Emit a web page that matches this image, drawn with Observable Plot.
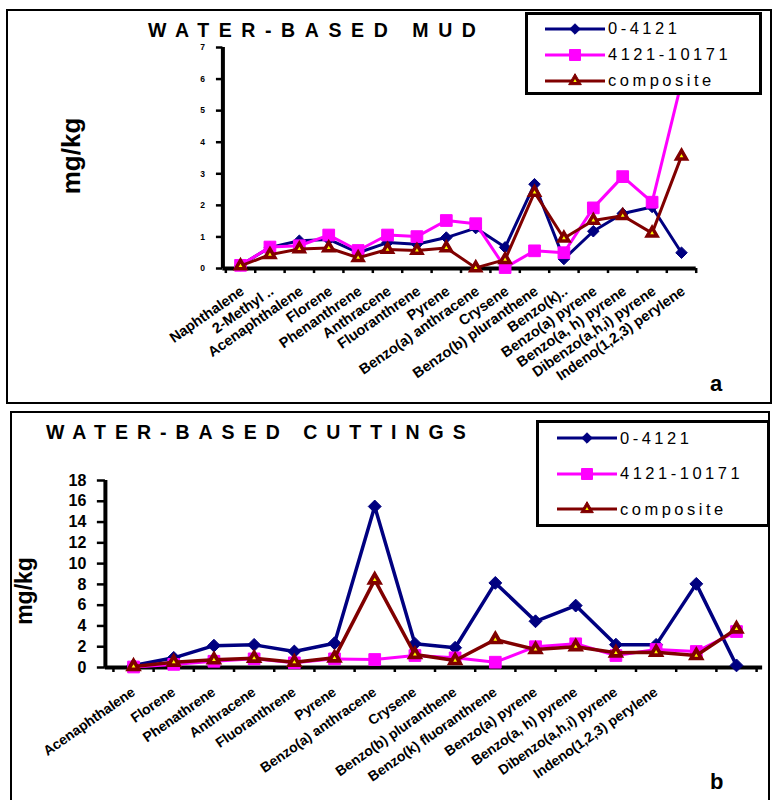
<!DOCTYPE html>
<html>
<head>
<meta charset="utf-8">
<script src="https://cdn.jsdelivr.net/npm/d3@7"></script>
<script src="https://cdn.jsdelivr.net/npm/@observablehq/plot@0.6"></script>
<style>
html,body{margin:0;padding:0;background:#fff;}
body{position:relative;width:780px;height:800px;overflow:hidden;font-family:"Liberation Sans",Arial,Helvetica,sans-serif;color:#000;}
.panel{position:absolute;border:2px solid #000;box-sizing:border-box;}
.title{position:absolute;font-weight:bold;font-size:19.5px;letter-spacing:9px;line-height:1;white-space:nowrap;}
.legend{position:absolute;border:3px solid #000;background:#fff;box-sizing:border-box;z-index:5;}
.entry{position:absolute;display:flex;align-items:center;white-space:nowrap;z-index:6;}
.entry span{font-size:16.5px;letter-spacing:3.5px;line-height:1;}
.entry svg{display:block;}
.ylab{position:absolute;font-weight:bold;white-space:nowrap;transform:translate(-50%,-50%) rotate(-90deg);line-height:1;}
.tag{position:absolute;font-weight:bold;font-size:22px;line-height:1;}
.chart{position:absolute;left:0;}
</style>
</head>
<body>
<div class="panel" style="left:6px;top:9px;width:766px;height:395px;"></div>
<div class="panel" style="left:10px;top:411px;width:760px;height:400px;"></div>
<div id="top" class="chart" style="top:0px"></div>
<div id="bottom" class="chart" style="top:405px"></div>
<div class="title" style="left:148px;top:20.5px;letter-spacing:9.6px;">WATER-BASED MUD</div>
<div class="title" style="left:46px;top:422.5px;">WATER-BASED CUTTINGS</div>
<div class="ylab" style="left:71px;top:156px;font-size:26px;">mg/kg</div>
<div class="ylab" style="left:24px;top:591px;font-size:23px;">mg/kg</div>
<div class="tag" style="left:710px;top:373px;">a</div>
<div class="tag" style="left:710px;top:771px;">b</div>
<div class="legend" style="left:525px;top:12px;width:237px;height:83px;"></div>
<div class="legend" style="left:536px;top:420px;width:234px;height:107px;"></div>
<script>
// ---------- data ----------
const seriesNames = ["0-4121", "4121-10171", "composite"];
const seriesColors = ["#000080", "#ff00ff", "#800000"];

const mudLabels = ["Naphthalene", "2-Methyl ..", "Acenaphthalene", "Florene", "Phenanthrene", "Anthracene",
  "Fluoranthrene", "Pyrene", "Benzo(a) anthracene", "Crysene", "Benzo(b) pluranthene", "Benzo(k)..",
  "Benzo(a) pyrene", "Benzo(a, h) pyrene", "Dibenzo(a,h,i) pyrene", "Indeno(1,2,3) perylene"];
const mudShallow = [0.10, 0.67, 0.88, 0.92, 0.50, 0.82, 0.77, 0.98, 1.28, 0.67, 2.67, 0.30, 1.18, 1.74, 1.95, 0.50];
const mudDeep = [0.10, 0.68, 0.72, 1.06, 0.57, 1.06, 1.01, 1.52, 1.42, 0.03, 0.56, 0.50, 1.92, 2.91, 2.10, 5.90];
const mudComposite = [0.08, 0.44, 0.62, 0.65, 0.34, 0.60, 0.57, 0.65, 0.02, 0.28, 2.41, 0.96, 1.52, 1.67, 1.12, 3.56];
const mudTicks = [0, 1, 2, 3, 4, 5, 6, 7];

const cutLabels = ["Acenaphthalene", "Florene", "Phenathrene", "Anthracene", "Fluoranthrene", "Pyrene",
  "Benzo(a) anthracene", "Crysene", "Benzo(b) pluranthene", "Benzo(k) fluoranthrene", "Benzo(a) pyrene",
  "Benzo(a, h) pyrene", "Dibenzo(a,h,i) pyrene", "Indeno(1,2,3) perylene", "", ""];
const cutShallow = [0.20, 0.93, 2.10, 2.18, 1.54, 2.34, 15.5, 2.28, 1.90, 8.14, 4.45, 5.96, 2.20, 2.18, 8.05, 0.20];
const cutDeep = [0.05, 0.30, 0.60, 0.83, 0.45, 0.83, 0.77, 1.15, 0.93, 0.51, 2.00, 2.28, 1.15, 1.73, 1.54, 3.46];
const cutComposite = [0.10, 0.51, 0.74, 0.90, 0.51, 0.93, 8.43, 1.25, 0.67, 2.69, 1.73, 2.00, 1.41, 1.47, 1.15, 3.72];
const cutTicks = [0, 2, 4, 6, 8, 10, 12, 14, 16, 18];

// ---------- drawing ----------
function toRows(values) {
  return seriesNames.flatMap((s, k) => values[k].map((v, i) => ({series: s, i, v})));
}

function drawPanel(cfg) {
  const rows = toRows(cfg.values);
  const idx = d3.range(cfg.labels.length);
  const bounds = d3.range(cfg.labels.length + 1).map(k => k - 0.5);
  const marks = [
    Plot.ruleX(bounds, {x: d => d, y1: 0, y2: -cfg.tickLenY, stroke: "#000", strokeWidth: cfg.tickW}),
    Plot.ruleY(cfg.yTicks, {y: d => d, x1: cfg.xMin - cfg.tickLenX, x2: cfg.xMin, stroke: "#000", strokeWidth: cfg.tickW}),
    Plot.ruleY([0], {x1: cfg.xMin, x2: cfg.xAxisEnd, stroke: "#000", strokeWidth: cfg.axisW}),
    Plot.ruleX([cfg.xMin], {y1: 0, y2: cfg.yMax, stroke: "#000", strokeWidth: cfg.axisW}),
    Plot.text(cfg.yTicks, {x: cfg.xMin, y: d => d, text: d => String(d), textAnchor: "end", dx: cfg.yLabelDx,
      fontWeight: "bold", fontSize: cfg.yFont, fill: "#000", ariaLabel: "ytl"}),
    Plot.text(idx, {x: i => i, y: 0, text: i => cfg.labels[i], rotate: -35, textAnchor: "end",
      dx: cfg.xlDx, dy: cfg.xlDy, fontWeight: "bold", fontSize: cfg.xFont, fill: "#000", ariaLabel: "xtl"})
  ];
  seriesNames.forEach((s, k) => {
    const d = rows.filter(r => r.series === s);
    const c = seriesColors[k];
    marks.push(Plot.line(d, {x: "i", y: "v", stroke: c, strokeWidth: cfg.lineW[k], strokeLinejoin: "round"}));
    if (k === 0) marks.push(Plot.dot(d, {x: "i", y: "v", symbol: "diamond2", r: cfg.rDiamond, fill: c, stroke: c, strokeWidth: 1}));
    if (k === 1) marks.push(Plot.dot(d, {x: "i", y: "v", symbol: "square", r: cfg.rSquare, fill: c, stroke: c, strokeWidth: 1}));
    if (k === 2) {
      marks.push(Plot.dot(d, {x: "i", y: "v", symbol: "triangle", r: cfg.rTri, fill: c, stroke: c, strokeWidth: 1.5}));
      marks.push(Plot.dot(d, {x: "i", y: "v", symbol: "triangle", r: 1.4, fill: "#ffff00", stroke: "none"}));
    }
  });
  const svg = Plot.plot({
    width: 780, height: cfg.height,
    marginTop: cfg.mt, marginBottom: cfg.mb, marginLeft: cfg.ml, marginRight: cfg.mr,
    x: {domain: [cfg.xMin, cfg.xMax], axis: null},
    y: {domain: [0, cfg.yMax], axis: null},
    style: {background: "transparent", fontFamily: "Liberation Sans, Arial, sans-serif", overflow: "visible"},
    marks
  });
  d3.select(svg).selectAll('[aria-label="ytl"] text').style("letter-spacing", cfg.yLetter);
  d3.select(svg).selectAll('[aria-label="xtl"] text').style("letter-spacing", cfg.xLetter);
  return svg;
}

document.getElementById("top").appendChild(drawPanel({
  labels: mudLabels, values: [mudShallow, mudDeep, mudComposite], yTicks: mudTicks,
  height: 405, mt: 47, mb: 137, ml: 222.4, mr: 84.3,
  xMin: -0.6, xMax: 15.5, xAxisEnd: 15.5, yMax: 7,
  tickLenX: 0.22, tickLenY: 0.16, tickW: 2.5, axisW: 4,
  yLabelDx: -18, yFont: 8.5, yLetter: "0px",
  xlDx: 2, xlDy: 21, xFont: 14.5, xLetter: "0.8px",
  lineW: [3, 3, 3], rDiamond: 5.2, rSquare: 6.6, rTri: 4.9
}));

document.getElementById("bottom").appendChild(drawPanel({
  labels: cutLabels, values: [cutShallow, cutDeep, cutComposite], yTicks: cutTicks,
  height: 395, mt: 75, mb: 133, ml: 104.9, mr: 23.9,
  xMin: -0.7, xMax: 15.5, xAxisEnd: 15.65, yMax: 18,
  tickLenX: 0.2, tickLenY: 0.48, tickW: 2.5, axisW: 4,
  yLabelDx: -19, yFont: 16, yLetter: "2px",
  xlDx: 0, xlDy: 23, xFont: 14, xLetter: "0.3px",
  lineW: [3.5, 3, 3.5], rDiamond: 5.8, rSquare: 6.6, rTri: 5.2
}));

// ---------- legends ----------
function legendEntry(name, k, left, cy, swatchW) {
  const div = document.createElement("div");
  div.className = "entry";
  div.style.left = left + "px";
  div.style.top = (cy - 9) + "px";
  div.style.height = "18px";
  const svg = d3.create("svg").attr("width", swatchW + 3).attr("height", 18);
  const c = seriesColors[k];
  svg.append("line").attr("x1", 0).attr("x2", swatchW).attr("y1", 9).attr("y2", 9)
    .attr("stroke", c).attr("stroke-width", 3);
  const sym = [d3.symbolDiamond2, d3.symbolSquare, d3.symbolTriangle][k];
  const size = [70, 120, 70][k];
  svg.append("path").attr("transform", `translate(${swatchW / 2},9)`)
    .attr("d", d3.symbol(sym, size)()).attr("fill", c).attr("stroke", c);
  if (k === 2) svg.append("path").attr("transform", `translate(${swatchW / 2},9)`)
    .attr("d", d3.symbol(d3.symbolTriangle, 5)()).attr("fill", "#ffff00");
  div.appendChild(svg.node());
  const span = document.createElement("span");
  span.textContent = name;
  div.appendChild(span);
  document.body.appendChild(div);
}
const topLegendY = [28.7, 54.7, 80.7];
const botLegendY = [438, 473.5, 509];
seriesNames.forEach((s, k) => legendEntry(s, k, 545, topLegendY[k], 60));
seriesNames.forEach((s, k) => legendEntry(s, k, 557, botLegendY[k], 60));
</script>
</body>
</html>
